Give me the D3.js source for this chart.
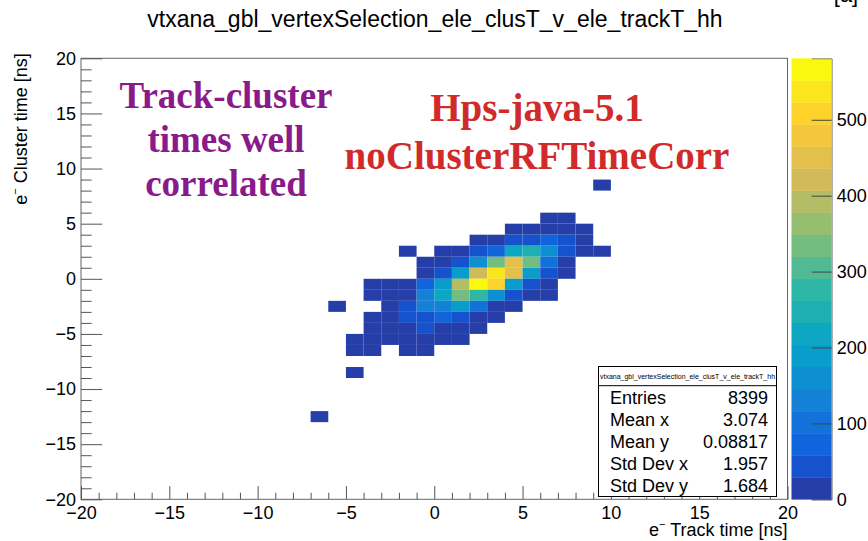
<!DOCTYPE html>
<html>
<head>
<meta charset="utf-8">
<script src="https://cdn.jsdelivr.net/npm/d3@7"></script>
<style>
  html, body { margin: 0; padding: 0; background: #fff; }
  svg { display: block; font-family: "Liberation Sans", Arial, Helvetica, sans-serif; }
</style>
</head>
<body>
<svg id="chart" width="868" height="541"></svg>
<script>
// e- cluster time vs e- track time, 1 ns x 1 ns bins
const clusterBins = [8, 5, 4, 3, 2, 1, 0, -1, -2, -3, -4, -5, -6, -7, -9, -13];
const trackStart  = [9, 6, 4, 2, -2, -1, -1, -4, -4, -6, -4, -4, -5, -5, -5, -7];
const counts = [
  [2],
  [4, 3],
  [8, 12, 15, 10, 5],
  [6, 18, 42, 50, 75, 40, 12],
  [2, 0, 5, 20, 45, 80, 215, 245, 160, 48, 14, 6],
  [4, 15, 52, 155, 335, 450, 330, 100, 22],
  [8, 40, 185, 425, 535, 445, 190, 50, 15],
  [3, 6, 14, 80, 190, 390, 581, 510, 185, 45, 12],
  [4, 8, 20, 125, 215, 330, 275, 160, 50, 14, 5],
  [1, 0, 0, 6, 40, 125, 130, 175, 100, 22, 6],
  [3, 10, 35, 45, 75, 40, 22, 5],
  [3, 8, 18, 35, 25, 12, 4],
  [2, 3, 6, 10, 12, 8, 3],
  [1, 2, 0, 3, 4],
  [1],
  [1]
];

const xMajorTicks = [-20, -15, -10, -5, 0, 5, 10, 15, 20];
const yMajorTicks = [-20, -15, -10, -5, 0, 5, 10, 15, 20];
const zTicks = [0, 100, 200, 300, 400, 500];

const statsNames  = ["Entries", "Mean x", "Mean y", "Std Dev x", "Std Dev y"];
const statsValues = ["8399", "3.074", "0.08817", "1.957", "1.684"];

const histName = "vtxana_gbl_vertexSelection_ele_clusT_v_ele_trackT_hh";
const leftNote  = ["Track-cluster", "times well", "correlated"];
const rightNote = ["Hps-java-5.1", "noClusterRFTimeCorr"];

// flatten rows into cells
const cells = [];
clusterBins.forEach((yb, r) => {
  counts[r].forEach((c, k) => {
    if (c > 0) cells.push({ x: trackStart[r] + k, y: yb, z: c });
  });
});

// ROOT "bird" palette, 255 colours, 20 contour levels
const stops = [0.0, 0.125, 0.25, 0.375, 0.5, 0.625, 0.75, 0.875, 1.0];
const red   = [0.2082, 0.0592, 0.0780, 0.0232, 0.1802, 0.5301, 0.8186, 0.9956, 0.9764];
const green = [0.1664, 0.3599, 0.5041, 0.6419, 0.7178, 0.7492, 0.7328, 0.7862, 0.9832];
const blue  = [0.5293, 0.8684, 0.8385, 0.7914, 0.6425, 0.4662, 0.3499, 0.1968, 0.0539];
const NCOL = 255, NDIV = 20;
const paletteTable = [];
for (let g = 1; g < stops.length; g++) {
  const n = Math.floor(NCOL * stops[g]) - Math.floor(NCOL * stops[g - 1]);
  for (let c = 0; c < n; c++) {
    const f = c / n;
    paletteTable.push(d3.rgb(
      255 * (red[g - 1] + f * (red[g] - red[g - 1])),
      255 * (green[g - 1] + f * (green[g] - green[g - 1])),
      255 * (blue[g - 1] + f * (blue[g] - blue[g - 1]))
    ).formatHex());
  }
}
const levelColor = b => paletteTable[Math.min(NCOL - 1, Math.floor((b + 0.99) * NCOL / NDIV))];

const zMax = d3.max(cells, d => d.z);
const level = z => Math.min(NDIV - 1, Math.floor(0.01 + z * NDIV / zMax));

const svg = d3.select("#chart");

const frame = { left: 81, right: 787.5, top: 58.3, bottom: 499.3 };
const x = d3.scaleLinear().domain([-20, 20]).range([frame.left, frame.right]);
const y = d3.scaleLinear().domain([-20, 20]).range([frame.bottom, frame.top]);

// bins
svg.append("g").selectAll("rect").data(cells).join("rect")
  .attr("x", d => x(d.x))
  .attr("y", d => y(d.y + 1))
  .attr("width", d => x(d.x + 1) - x(d.x))
  .attr("height", d => y(d.y) - y(d.y + 1))
  .attr("fill", d => levelColor(level(d.z)));

// frame
svg.append("rect")
  .attr("x", frame.left).attr("y", frame.top)
  .attr("width", frame.right - frame.left).attr("height", frame.bottom - frame.top)
  .attr("fill", "none").attr("stroke", "#666").attr("stroke-width", 1);

const tickColor = "#555";
const minorX = d3.range(-20, 21, 1).filter(v => v % 5 !== 0);

// x axis
const xAxis = svg.append("g").attr("transform", `translate(0,${frame.bottom})`)
  .call(d3.axisBottom(x).tickValues(xMajorTicks).tickSize(-13.2).tickPadding(7).tickFormat(d3.format("d")));
const xMinor = svg.append("g").attr("transform", `translate(0,${frame.bottom})`)
  .call(d3.axisBottom(x).tickValues(minorX).tickSize(-6.6).tickFormat(""));

// y axis
const yAxis = svg.append("g").attr("transform", `translate(${frame.left},0)`)
  .call(d3.axisLeft(y).tickValues(yMajorTicks).tickSize(-21.2).tickPadding(5).tickFormat(d3.format("d")));
const yMinor = svg.append("g").attr("transform", `translate(${frame.left},0)`)
  .call(d3.axisLeft(y).tickValues(minorX).tickSize(-10.6).tickFormat(""));

[xAxis, xMinor, yAxis, yMinor].forEach(g => {
  g.select(".domain").remove();
  g.selectAll("line").attr("stroke", tickColor);
  g.selectAll("text").attr("font-size", 18).attr("fill", "#000")
    .style("font-family", "Liberation Sans, Arial, sans-serif");
});

// axis titles
const xt = svg.append("text")
  .attr("x", frame.right).attr("y", 536)
  .attr("text-anchor", "end").attr("font-size", 18);
xt.append("tspan").text("e");
xt.append("tspan").attr("font-size", 11).attr("dy", -8).text("−");
xt.append("tspan").attr("dy", 8).text(" Track time [ns]");

const yt = svg.append("text")
  .attr("transform", `translate(27,${frame.top - 5}) rotate(-90)`)
  .attr("text-anchor", "end").attr("font-size", 18);
yt.append("tspan").text("e");
yt.append("tspan").attr("font-size", 11).attr("dy", -8).text("−");
yt.append("tspan").attr("dy", 8).text(" Cluster time [ns]");

// title
svg.append("text")
  .attr("x", 435).attr("y", 27)
  .attr("text-anchor", "middle").attr("font-size", 23)
  .text(histName);

// clipped label at top right
svg.append("text")
  .attr("x", 846).attr("y", 2)
  .attr("text-anchor", "middle").attr("font-size", 22)
  .text("[a]");

// colour palette
const pal = { left: 791.5, right: 831.7 };
const z = d3.scaleLinear().domain([0, zMax]).range([frame.bottom, frame.top]);
const bands = d3.range(NDIV);
svg.append("g").selectAll("rect").data(bands).join("rect")
  .attr("x", pal.left)
  .attr("y", b => z((b + 1) * zMax / NDIV))
  .attr("width", pal.right - pal.left)
  .attr("height", b => z(b * zMax / NDIV) - z((b + 1) * zMax / NDIV) + 0.3)
  .attr("fill", b => levelColor(b));

const zAxis = svg.append("g").attr("transform", `translate(${pal.right},0)`)
  .call(d3.axisRight(z).tickValues(zTicks).tickSize(-20).tickPadding(5).tickFormat(d3.format("d")));
zAxis.select(".domain").attr("stroke", "#888");
zAxis.selectAll("line").attr("stroke", "#444");
zAxis.selectAll("text").attr("font-size", 18).attr("fill", "#000");

// statistics box
const sb = { x: 598.5, y: 366.5, w: 178, h: 130 };
svg.append("rect")
  .attr("x", sb.x).attr("y", sb.y).attr("width", sb.w).attr("height", sb.h)
  .attr("fill", "#fff").attr("stroke", "#000").attr("stroke-width", 1);
svg.append("text")
  .attr("x", sb.x + sb.w / 2).attr("y", 379)
  .attr("text-anchor", "middle").attr("font-size", 7)
  .text(histName);
svg.append("line")
  .attr("x1", sb.x).attr("x2", sb.x + sb.w)
  .attr("y1", 385.7).attr("y2", 385.7)
  .attr("stroke", "#000");
const rowY = d3.scalePoint().domain(statsNames).range([404, 492]);
svg.append("g").selectAll("text").data(statsNames).join("text")
  .attr("x", 610).attr("y", d => rowY(d))
  .attr("font-size", 18).text(d => d);
svg.append("g").selectAll("text").data(statsValues).join("text")
  .attr("x", 768).attr("y", (d, i) => rowY(statsNames[i]))
  .attr("text-anchor", "end").attr("font-size", 18).text(d => d);

// annotations
const serif = "'Liberation Serif', 'Times New Roman', serif";
svg.append("g").selectAll("text").data(leftNote).join("text")
  .attr("x", 226).attr("y", (d, i) => 108 + i * 44)
  .attr("text-anchor", "middle")
  .style("font-family", serif)
  .attr("font-weight", "bold").attr("font-size", 37)
  .attr("fill", "#8a1a8a").text(d => d);
svg.append("g").selectAll("text").data(rightNote).join("text")
  .attr("x", 537).attr("y", (d, i) => 121 + i * 48)
  .attr("text-anchor", "middle")
  .style("font-family", serif)
  .attr("font-weight", "bold").attr("font-size", 39)
  .attr("fill", "#d12a2a").text(d => d);
</script>
</body>
</html>
